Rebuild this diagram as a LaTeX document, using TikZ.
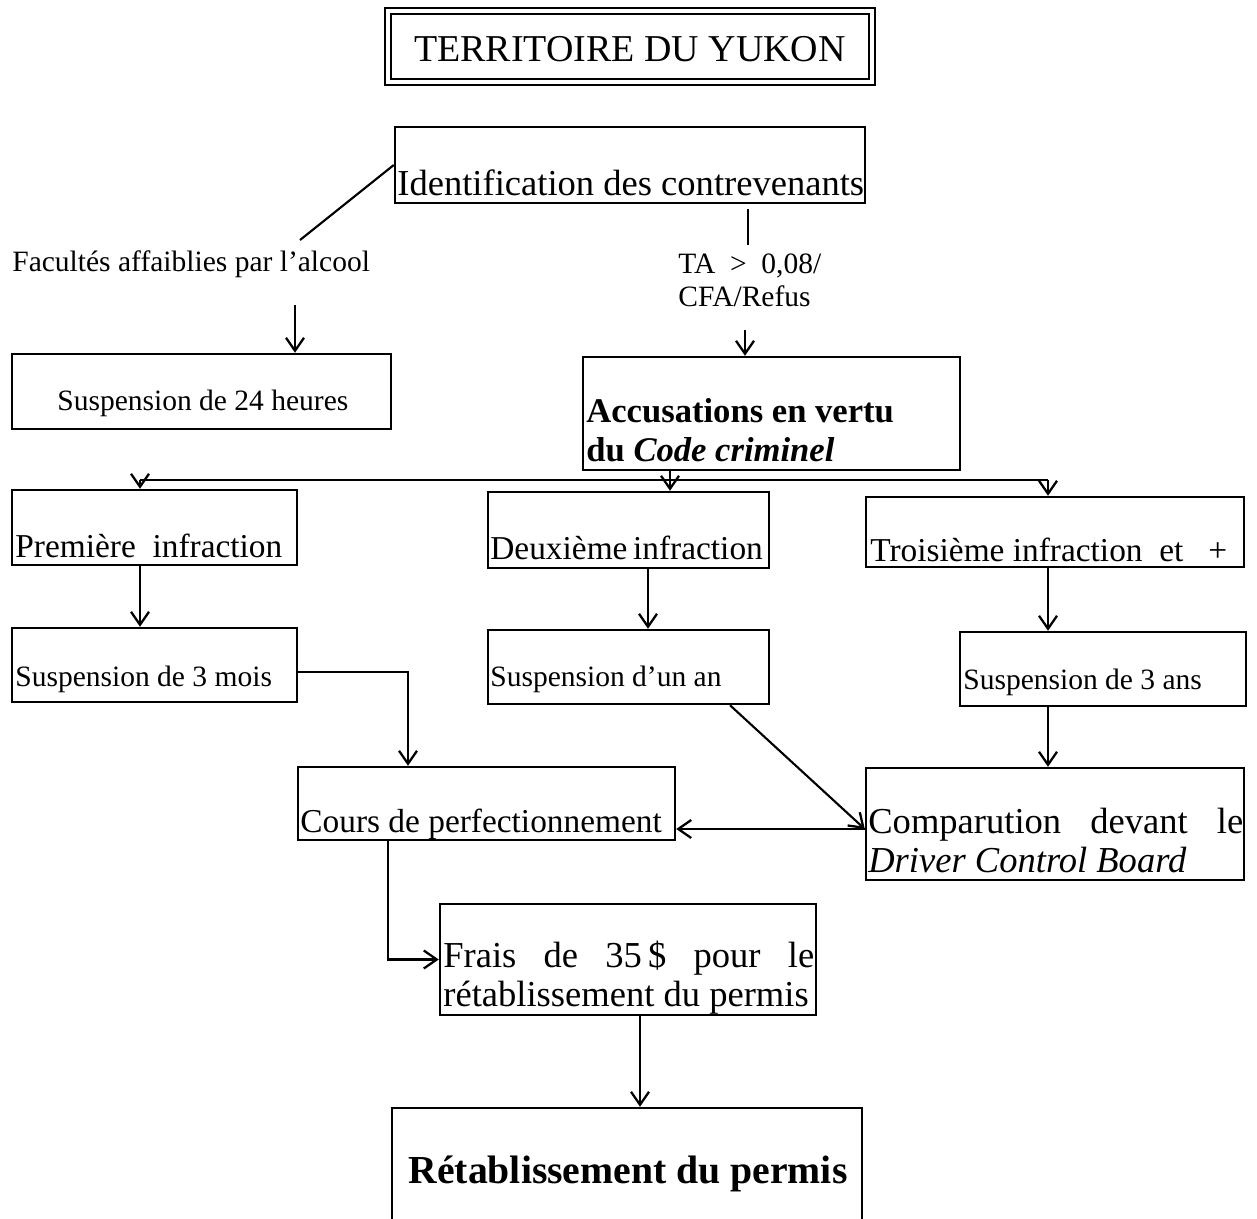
\documentclass[tikz,border=0pt]{standalone}
\usepackage{fontspec}
\setmainfont{Liberation Serif}
\usetikzlibrary{arrows.meta,positioning,fit,calc}

\begin{document}
\begin{tikzpicture}[x=0.02cm,y=-0.02cm,
  box/.style={draw,line width=1.4pt,inner sep=0pt},
  txt/.style={inner sep=0pt,anchor=base west},
  small/.style={font=\fontsize{16.8}{19}\selectfont},
  mid/.style={font=\fontsize{19}{22}\selectfont},
  big/.style={font=\fontsize{20.8}{22}\selectfont},
  link/.style={line width=1.2pt},
  arrow/.style={link,-{Straight Barb[length=2.6mm,width=3.6mm,line width=1.3pt]}}
]
  \useasboundingbox (0,0) rectangle (1257,1219);

  % title
  \node[box,double,line width=1pt,double distance=2.4pt,fit={(388,11) (872,82)}] (title) {};
  \node[inner sep=0pt,anchor=base,font=\fontsize{21.6}{24}\selectfont] (titletxt) at (630,62) {TERRITOIRE DU YUKON};

  % boxes
  \node[box,fit={(395,127) (865,203)}] (ident) {};
  \node[box,fit={(12,354) (391,429)}] (susp24) {};
  \node[box,fit={(583,357) (960,470)}] (accus) {};
  \node[box,fit={(12,490) (297,565)}] (prem) {};
  \node[box,fit={(488,492) (769,568)}] (deux) {};
  \node[box,fit={(866,497) (1244,567)}] (trois) {};
  \node[box,fit={(12,628) (297,702)}] (mois) {};
  \node[box,fit={(488,630) (769,704)}] (an) {};
  \node[box,fit={(960,632) (1246,706)}] (ans) {};
  \node[box,fit={(298,767) (675,840)}] (cours) {};
  \node[box,fit={(866,768) (1244,880)}] (comp) {};
  \node[box,fit={(440,904) (816,1015)}] (frais) {};
  \node[box,fit={(392,1108) (862,1228)}] (retab) {};

  % texts (base = last line)
  \node[txt,big] (identtxt) at (397,196) {Identification des contrevenants};
  \node[txt,small] (facul) at (12,272) {Facultés affaiblies par l’alcool};
  \node[txt,small,align=left] (taref) at (678,307) {TA\ \ >\ \ 0,08/\\CFA/Refus};
  \node[txt,small] (susp24txt) at (57,411) {Suspension de 24 heures};
  \node[txt,align=left,font=\fontsize{19.7}{22}\selectfont] (accustxt) at (586,461)
    {\textbf{Accusations en vertu}\\\textbf{du \textit{Code criminel}}};
  \node[txt,mid] (premtxt) at (15,557) {Première\ \ infraction};
  \node[txt,mid] (deuxtxt) at (490,559) {Deuxième\,infraction};
  \node[txt,mid] (troistxt) at (870,561) {Troisième\ infraction\ \ et\ \ \ +};
  \node[txt,small] (moistxt) at (15,686) {Suspension de 3 mois};
  \node[txt,small] (antxt) at (490,686) {Suspension d’un an};
  \node[txt,small] (anstxt) at (963,689) {Suspension de 3 ans};
  \node[txt,mid] (courstxt) at (300,832) {Cours de perfectionnement};
  \node[txt,big,align=left] (comptxt) at (868,872)
    {\makebox[7.5cm][s]{Comparution devant le}\\\textit{Driver Control Board}};
  \node[txt,big,align=left] (fraistxt) at (443,1006)
    {\makebox[7.42cm][s]{Frais de 35\,\$ pour le}\\rétablissement du permis};
  \node[inner sep=0pt,anchor=base,font=\fontsize{22.6}{26}\selectfont\bfseries] (retabtxt) at (628,1183)
    {Rétablissement\ du\ permis};

  % connectors
  \coordinate (c1) at (300,240);
  \coordinate (c2) at (295,305);
  \coordinate (c3) at (748,245);
  \coordinate (c4) at (745,330);
  \coordinate (bus) at (670,480);
  \coordinate (colA) at (140,0);
  \coordinate (colB) at (648,0);
  \coordinate (colC) at (1048,0);
  \coordinate (colD) at (408,0);
  \coordinate (colE) at (730,0);
  \coordinate (colF) at (388,0);
  \coordinate (colG) at (640,0);

  \draw[link] (ident.west) -- (c1);
  \draw[arrow] (c2) -- (c2 |- susp24.north);
  \draw[link] (ident.south -| c3) ++(0,5) -- (c3);
  \draw[arrow] (c4) -- (c4 |- accus.north);

  \draw[link] (accus.south -| bus) -- (bus);
  \draw[link] (bus -| colA) -- (bus -| colC);
  \draw[arrow] (bus -| colA) -- (prem.north -| colA);
  \draw[arrow] (bus) -- (bus |- deux.north);
  \draw[arrow] (bus -| colC) -- (trois.north -| colC);

  \draw[arrow] (prem.south -| colA) -- (mois.north -| colA);
  \draw[arrow] (deux.south -| colB) -- (an.north -| colB);
  \draw[arrow] (trois.south -| colC) -- (ans.north -| colC);

  \draw[arrow] ([yshift=-0.14cm]mois.east) -| (cours.north -| colD);
  \draw[arrow] (an.south -| colE) -- ([yshift=-0.1cm]comp.west);
  \draw[arrow] ([yshift=-0.1cm]comp.west) -- ([yshift=-0.1cm]comp.west -| cours.east);
  \draw[arrow] (ans.south -| colC) -- (comp.north -| colC);

  \draw[arrow] (cours.south -| colF) |- (frais.west);
  \draw[arrow] (frais.south -| colG) -- (retab.north -| colG);
\end{tikzpicture}
\end{document}
